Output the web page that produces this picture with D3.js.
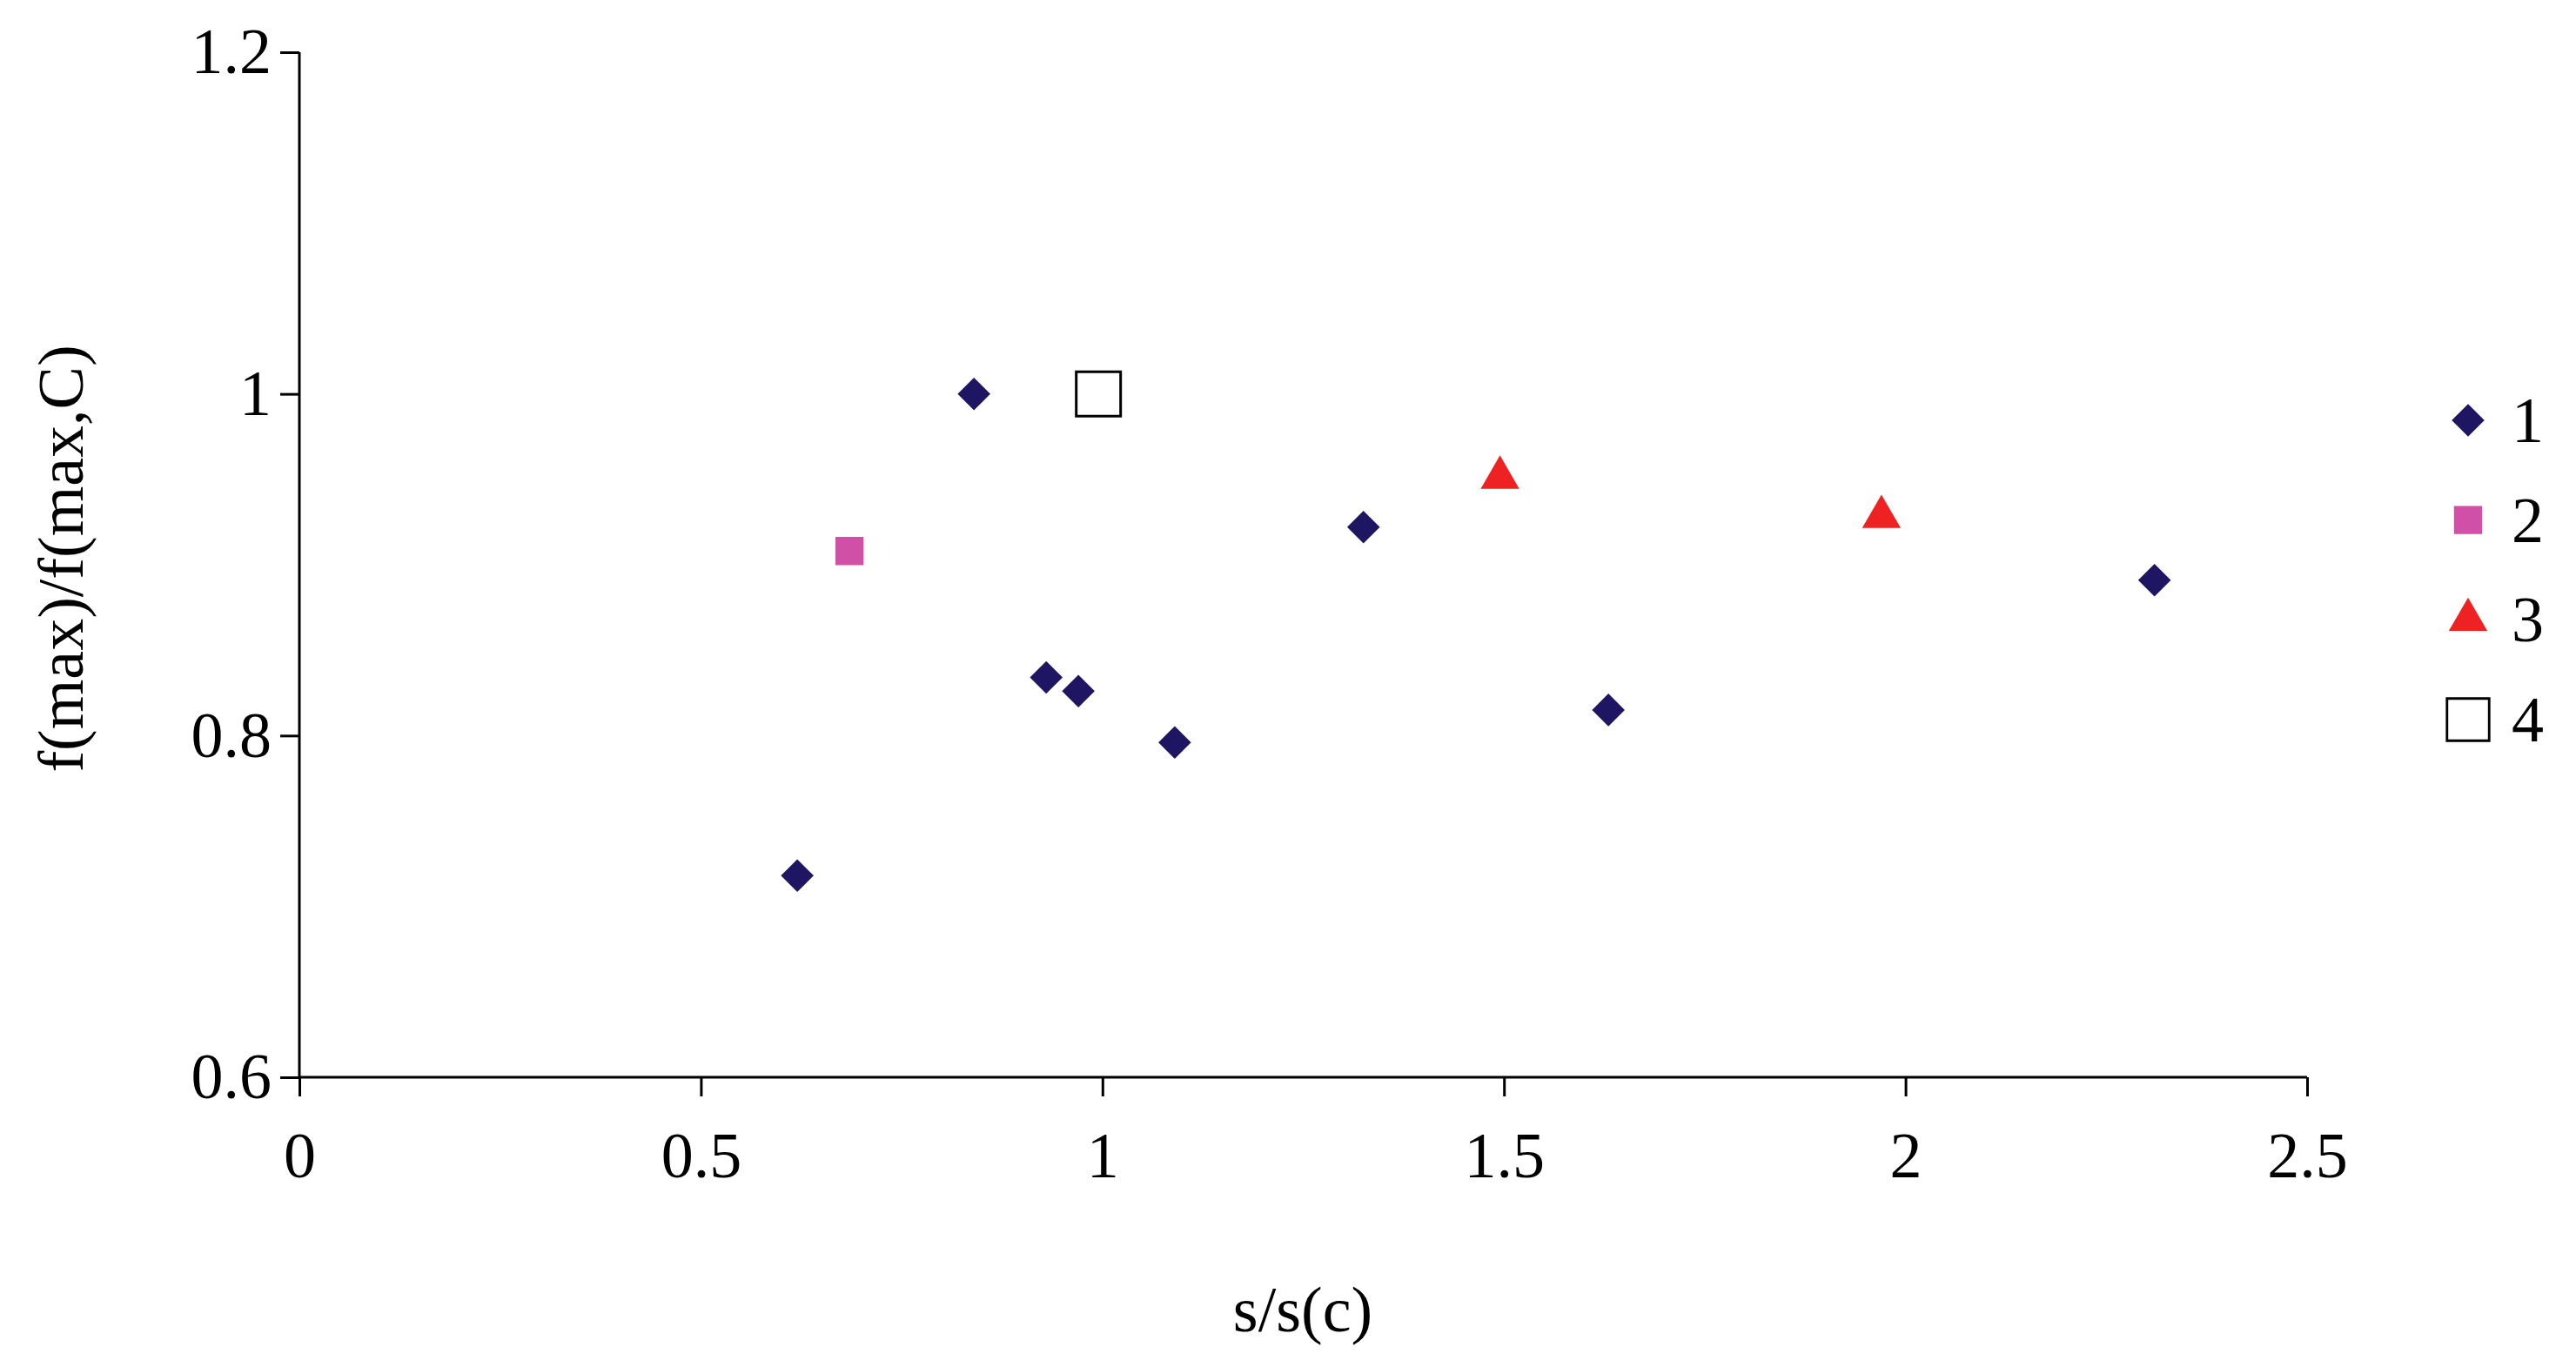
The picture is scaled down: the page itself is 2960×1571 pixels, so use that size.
<!DOCTYPE html><html><head><meta charset="utf-8"><script src="https://cdn.jsdelivr.net/npm/d3@7"></script>
<style>body{margin:0;background:#fff}svg text{font-family:'Liberation Serif','Times New Roman',Times,serif !important}</style></head><body><svg id="c" width="2960" height="1571"></svg>
<script>
const s1x=[0.62,0.84,0.93,0.97,1.09,1.325,1.63,2.31];
const s1y=[0.718,1.0,0.834,0.826,0.796,0.922,0.815,0.891];
const s2x=[0.685], s2y=[0.908];
const s3x=[1.495,1.97], s3y=[0.951,0.928];
const s4x=[0.995], s4y=[1.0];
const xTicks=[0,0.5,1,1.5,2,2.5], yTicks=[0.6,0.8,1,1.2];
const legendLabels=["1","2","3","4"];
const FS=74;
const svg=d3.select("#c");
const x=d3.scaleLinear().domain([0,2.5]).range([344,2651]);
const y=d3.scaleLinear().domain([0.6,1.2]).range([1238,60]);
const fmt=d=>String(d);
const xa=svg.append("g").attr("transform","translate(0,1238)").call(d3.axisBottom(x).tickValues(xTicks).tickFormat(fmt).tickSize(22).tickPadding(40));
const ya=svg.append("g").attr("transform","translate(344,0)").call(d3.axisLeft(y).tickValues(yTicks).tickFormat(fmt).tickSize(22).tickPadding(10));
[xa,ya].forEach(a=>{a.selectAll("path,line").attr("stroke","#000").attr("stroke-width",3);a.select(".domain").attr("d",a===xa?"M344,0H2651":"M0,60V1238");a.selectAll("text").attr("font-size",FS).attr("fill","#000");});
xa.selectAll(".tick line").attr("y1",0).attr("y2",22);
ya.selectAll(".tick line").attr("x1",0).attr("x2",-22);
svg.append("text").attr("x",1497).attr("y",1530).attr("text-anchor","middle").attr("font-size",FS).text("s/s(c)");
svg.append("text").attr("transform","translate(95,642) rotate(-90)").attr("text-anchor","middle").attr("font-size",FS).text("f(max)/f(max,C)");
const sym={d:d3.symbol().type(d3.symbolDiamond2).size(900),s:d3.symbol().type(d3.symbolSquare).size(1050),t:d3.symbol().type(d3.symbolTriangle).size(850),o:d3.symbol().type(d3.symbolSquare).size(2600)};
function draw(xs,ys,p,fill,stroke){svg.append("g").selectAll("path").data(xs.map((v,i)=>[v,ys[i]])).join("path").attr("d",p).attr("transform",d=>`translate(${x(d[0])},${y(d[1])})`).attr("fill",fill).attr("stroke",stroke||"none").attr("stroke-width",3);}
draw(s1x,s1y,sym.d(),"#1f1663");
draw(s2x,s2y,sym.s(),"#d050a8");
draw(s3x,s3y,sym.t(),"#ee2222");
draw(s4x,s4y,sym.o(),"#fff","#000");
const lg=[[sym.d(),"#1f1663","none"],[sym.s(),"#d050a8","none"],[sym.t(),"#ee2222","none"],[sym.o(),"#fff","#000"]];
const ly=d3.scalePoint().domain(legendLabels).range([483,827]);
legendLabels.forEach((l,i)=>{const g=svg.append("g").attr("transform",`translate(2836,${ly(l)})`);
g.append("path").attr("d",lg[i][0]).attr("fill",lg[i][1]).attr("stroke",lg[i][2]).attr("stroke-width",3).attr("transform",i==3?"scale(0.95)":"");
g.append("text").attr("x",50).attr("y",25).attr("font-size",FS).text(l);});
</script></body></html>
